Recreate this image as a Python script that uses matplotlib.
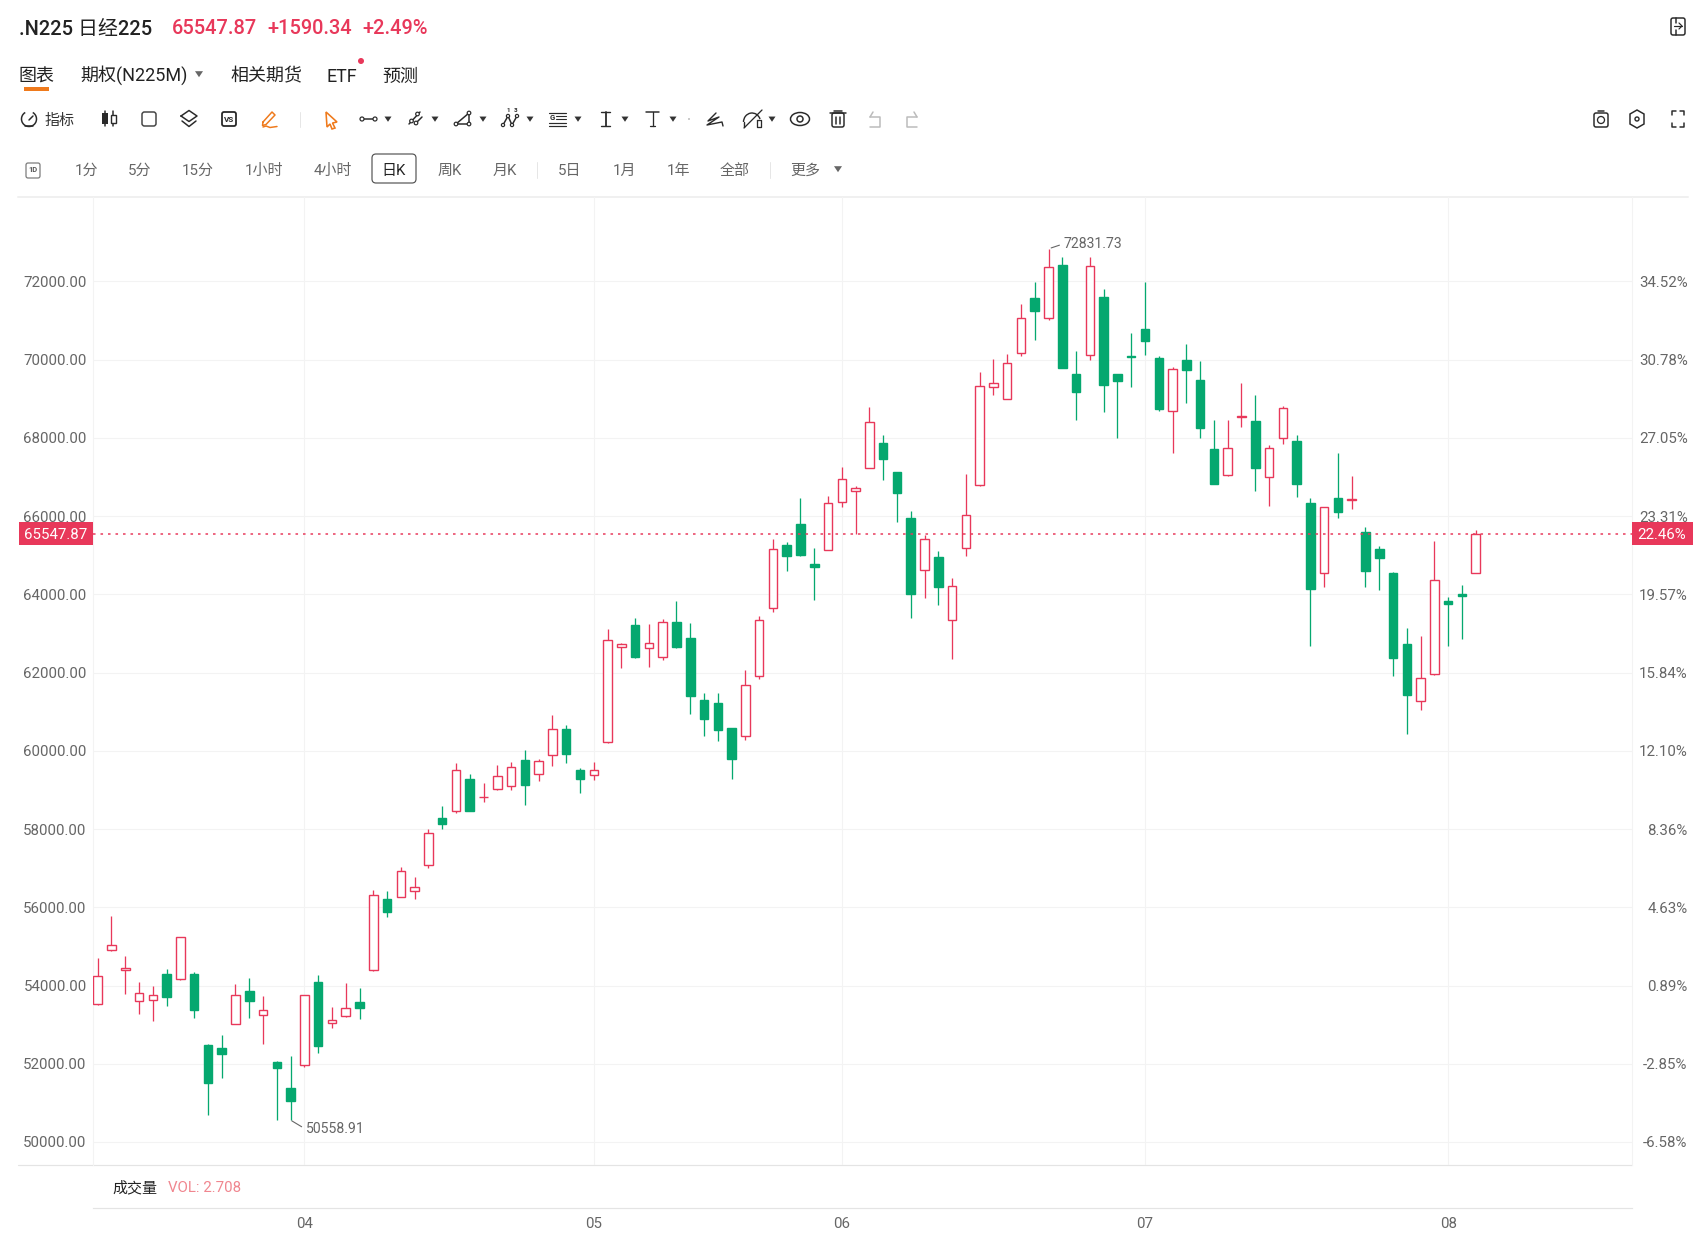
import matplotlib
matplotlib.use('Agg')
import matplotlib.pyplot as plt
from matplotlib.patches import Rectangle, FancyBboxPatch, Circle, Polygon, Ellipse, Arc

plt.rcParams['font.family'] = ['Roboto', 'Noto Sans CJK SC', 'DejaVu Sans']

# daily candles
opens = [53530, 54920, 54390, 53600, 53630, 54290, 54160, 54290, 52480, 52390,
         53020, 53870, 53240, 52050, 51390, 51960, 54080, 53030, 53210, 53580,
         54390, 56200, 56260, 56420, 57080, 58270, 58470, 59270, 58810, 59020,
         59100, 59760, 59400, 59880, 60550, 59500, 59380, 60230, 62650, 63220,
         62620, 62400, 63280, 62890, 61310, 61210, 60570, 60380, 61910, 63660,
         65250, 65790, 64780, 65130, 66370, 66630, 67240, 67870, 67120, 65960,
         64630, 64960, 63340, 65180, 66790, 69290, 69000, 70160, 71570, 71070,
         72420, 69630, 70120, 71590, 69630, 70090, 70790, 70050, 68680, 69980,
         69470, 67720, 67040, 68530, 68420, 67010, 67990, 67910, 66340, 64540,
         66450, 66410, 65590, 65170, 64540, 62740, 61260, 61960, 63840, 64000,
         64550]
closes = [54250, 55040, 54460, 53820, 53750, 53700, 55250, 53370, 51520, 52250,
          53760, 53600, 53370, 51880, 51060, 53750, 52460, 53130, 53420, 53430,
          56310, 55890, 56930, 56510, 57890, 58130, 59520, 58470, 58820, 59350,
          59590, 59130, 59730, 60550, 59910, 59280, 59510, 62840, 62720, 62410,
          62750, 63280, 62650, 61400, 60810, 60540, 59800, 61690, 63340, 65170,
          64990, 65000, 64690, 66330, 66940, 66730, 68400, 67470, 66580, 64020,
          65420, 64180, 64220, 66030, 69330, 69410, 69910, 71060, 71250, 72360,
          69790, 69170, 72380, 69360, 69460, 70070, 70470, 68730, 69750, 69740,
          68260, 66820, 67750, 68560, 67240, 67750, 68760, 66830, 64140, 66230,
          66100, 66430, 64600, 64920, 62360, 61420, 61860, 64360, 63740, 63950,
          65547.87]
highs = [54710, 55770, 54750, 54080, 54000, 54410, 55250, 54350, 52500, 52730,
         54040, 54200, 53730, 52060, 52190, 53750, 54280, 53440, 54060, 53940,
         56440, 56420, 57020, 56780, 57990, 58590, 59690, 59400, 59180, 59630,
         59710, 60030, 59780, 60920, 60650, 59570, 59720, 63110, 62750, 63400,
         63240, 63370, 63820, 63260, 61490, 61470, 60580, 62060, 63450, 65420,
         65330, 66450, 65180, 66520, 67250, 66760, 68800, 68060, 67130, 66130,
         65510, 65110, 64410, 67080, 69680, 70020, 70140, 71420, 71980, 72831.73,
         72630, 70230, 72610, 71800, 69640, 70670, 71980, 70090, 69800, 70390,
         69970, 68460, 68460, 69390, 69100, 67810, 68810, 68080, 66450, 66240,
         67600, 67030, 65720, 65230, 64570, 63150, 62940, 65370, 63920, 64250,
         65650]
lows = [53490, 54880, 53780, 53280, 53100, 53480, 54150, 53180, 50680, 51640,
        53010, 53170, 52500, 50560, 50558.91, 51910, 52270, 52920, 53200, 53150,
        54380, 55760, 56250, 56220, 57000, 58010, 58420, 58460, 58680, 58990,
        58990, 58610, 59220, 59600, 59690, 58930, 59250, 60210, 62120, 62370,
        62150, 62310, 62640, 60930, 60370, 60250, 59280, 60280, 61840, 63560,
        64600, 64990, 63860, 65120, 66230, 65550, 67230, 66910, 65860, 63400,
        63910, 63720, 62340, 64990, 66780, 69090, 68990, 70090, 70500, 71010,
        69780, 68460, 69990, 68650, 67990, 69310, 70120, 68680, 67610, 68900,
        68000, 66810, 67020, 68270, 66650, 66270, 67840, 66500, 62690, 64190,
        65940, 66190, 64190, 64100, 61910, 60440, 61040, 61940, 62680, 62850,
        64550]

price_ticks = [50000, 52000, 54000, 56000, 58000, 60000, 62000, 64000, 66000, 68000, 70000, 72000]
pct_labels = ['-6.58%', '-2.85%', '0.89%', '4.63%', '8.36%', '12.10%', '15.84%', '19.57%',
              '23.31%', '27.05%', '30.78%', '34.52%']
month_pos = [15, 36, 54, 76, 98]
month_labels = ['04', '05', '06', '07', '08']
last_price = 65547.87
last_pct = '22.46%'
peak_i, peak_val = 69, 72831.73
trough_i, trough_val = 14, 50558.91

RED = '#e8385a'
GREEN = '#05a86f'
GREY = '#666666'
GRID = '#f3f3f3'
DARK = '#2a2a2a'
ORANGE = '#ef7a1c'
W, H = 1705, 1234
pt = 0.72  # px -> pt at dpi 100

fig = plt.figure(figsize=(W / 100, H / 100), dpi=100, facecolor='white')


def box(l, t, r, b):
    return [l / W, 1 - b / H, (r - l) / W, (b - t) / H]


# page furniture lives on a pixel-sized axes
ui = fig.add_axes([0, 0, 1, 1])
ui.set_xlim(0, W)
ui.set_ylim(H, 0)
ui.axis('off')


def line(xs, ys, c=DARK, lw=1.5):
    ui.plot(xs, ys, color=c, lw=lw * pt, solid_capstyle='round', solid_joinstyle='round')


def dot(x, y, r=2, c=DARK, lw=1.2):
    ui.add_patch(Circle((x, y), r, fc='white', ec=c, lw=lw * pt, zorder=3))


def label(x, y, s, size=15, c=GREY, ha='center', **kw):
    ui.text(x, y, s, fontsize=size * pt, color=c, ha=ha, va='center_baseline', **kw)


def rbox(x0, y0, x1, y1, c=DARK, lw=1.5, r=2, fc='none'):
    ui.add_patch(FancyBboxPatch((x0 + r, y0 + r), x1 - x0 - 2 * r, y1 - y0 - 2 * r,
                                boxstyle='round,pad=%s' % r, ec=c, fc=fc, lw=lw * pt))


def tri(x, y, c='#444444', s=3.5):
    ui.add_patch(Polygon([(x - s, y - s * 0.7), (x + s, y - s * 0.7), (x, y + s * 0.8)], fc=c, ec='none'))


# header
label(19, 27, '.N225 日经225', 20, '#222222', ha='left', fontweight='medium')
label(172, 27, '65547.87', 20, RED, ha='left', fontweight='medium')
label(267, 27, '+1590.34', 20, RED, ha='left', fontweight='medium')
label(362, 27, '+2.49%', 20, RED, ha='left', fontweight='medium')
rbox(1671, 18, 1685, 35)
line([1676, 1676], [18, 23])
line([1676, 1676], [30, 35])
line([1674, 1682], [26, 26], lw=1.2)
line([1679, 1682, 1679], [23, 26, 29], lw=1.2)

# tabs
label(19, 74.5, '图表', 18, '#222222', ha='left')
label(80, 72.5, '期权(N225M)', 18, '#222222', ha='left')
tri(199, 74, GREY, 4)
label(230, 74.5, '相关期货', 18, '#222222', ha='left')
label(327, 74.5, 'ETF', 18, '#222222', ha='left')
ui.add_patch(Circle((361, 61), 3, fc=RED, ec='none'))
label(382, 74.5, '预测', 18, '#222222', ha='left')
ui.add_patch(Rectangle((24, 87), 25, 4, fc=ORANGE, ec='none'))

# drawing toolbar
ty = 119
ui.add_patch(Arc((29, ty), 15, 15, theta1=-60, theta2=240, ec=DARK, lw=1.5 * pt))
line([25, 33], [125.5, 125.5])
line([29, 33], [120, 116])
label(45, ty, '指标', 15, '#333333', ha='left')
ui.add_patch(Rectangle((102, 113), 6, 11, fc=DARK, ec='none'))
line([105, 105], [111, 126])
line([113, 113], [111, 126])
ui.add_patch(Rectangle((110.5, 114.5), 5, 8.5, fc='white', ec=DARK, lw=1.4 * pt, zorder=3))
rbox(142, 112, 156, 126, '#444444', r=2.5)
line([181, 189, 197, 189, 181], [116, 110.5, 116, 121.5, 116])
line([182, 189, 196], [121, 126.5, 121])
rbox(222, 112, 236, 126, lw=1.8)
label(229, 119, 'VS', 8, DARK, fontweight='bold')
line([263, 272, 275, 266, 262.5, 263], [122, 112, 115, 124.5, 125.5, 122], ORANGE)
line([263, 266, 270, 277], [127, 126, 127.5, 126.5], ORANGE)
line([300, 300], [112, 127], '#e6e6e6', 1)
ui.add_patch(Polygon([(326, 112), (337, 122), (332.5, 123), (335, 128), (332, 129), (330, 124), (327, 127)],
                     fc='none', ec=ORANGE, lw=1.6 * pt))
line([363, 374], [119, 119])
dot(362, 119)
dot(375, 119)
line([409, 420], [124, 112])
line([415, 422], [124, 117])
dot(417.5, 114, 1.8)
dot(411.5, 121, 1.8)
dot(416, 123, 1.8)
line([456, 469, 469, 456], [124, 124, 113, 124])
dot(456, 124, 1.8)
dot(469, 124, 1.8)
dot(469, 113, 1.8)
line([503, 508, 512, 517], [125, 116, 125, 116])
for x, y in [(503, 125), (508, 116), (512, 125), (517, 116)]:
    dot(x, y, 1.6)
ui.text(508, 111, '1', fontsize=4.5, color=DARK, ha='center', va='center', fontweight='bold')
ui.text(516, 111, '3', fontsize=4.5, color=DARK, ha='center', va='center', fontweight='bold')
for y in [112.5, 122.5, 126]:
    line([549, 566], [y, y], lw=1.2)
line([556, 566], [116, 116], lw=1.1)
line([556, 566], [119, 119], lw=1.1)
ui.text(552, 117.5, 'G', fontsize=5.5, color=DARK, ha='center', va='center', fontweight='bold')
line([601, 610], [112, 112], lw=1.4)
line([605.5, 605.5], [112, 126], lw=1.8)
line([601, 610], [126, 126], lw=1.4)
line([646, 659], [112, 112], lw=1.5)
line([652.5, 652.5], [112, 126], lw=1.3)
line([650, 655], [126, 126], lw=1.3)
line([716, 708, 719, 707, 722, 723], [113, 121, 117, 125, 122, 126], lw=1.4)
ui.add_patch(Arc((752, 122), 17, 18, theta1=180, theta2=340, ec=DARK, lw=1.4 * pt))
line([743.5, 743.5], [122, 127], lw=1.4)
line([757, 757, 761, 761, 757], [120, 127, 127, 120, 120], lw=1.3)
line([744, 762], [128, 110], lw=1.3)
ui.add_patch(Ellipse((800, 119), 19, 13, fc='none', ec=DARK, lw=1.5 * pt))
ui.add_patch(Circle((800, 119), 3, fc='none', ec=DARK, lw=1.5 * pt))
line([830, 846], [113, 113])
line([834, 842], [110.5, 110.5])
rbox(832, 113, 844, 127)
line([836, 836], [116.5, 123.5])
line([840, 840], [116.5, 123.5])
for x in [388, 435, 483, 530, 578, 625, 673, 772]:
    tri(x, 119, '#333333', 3.5)
ui.add_patch(Circle((689, 119), 0.8, fc='#999999', ec='none'))
line([870, 880, 880, 870], [117, 117, 127, 127], '#bbbbbb')
line([870, 873], [117, 112], '#bbbbbb')
line([917, 907, 907, 917], [117, 117, 127, 127], '#bbbbbb')
line([917, 914], [117, 112], '#bbbbbb')
rbox(1594, 113, 1608, 127)
line([1598, 1604], [111, 111])
ui.add_patch(Circle((1601, 120), 3.5, fc='none', ec=DARK, lw=1.3 * pt))
ui.add_patch(Polygon([(1637, 110), (1644, 114), (1644, 124), (1637, 128), (1630, 124), (1630, 114)],
                     fc='none', ec=DARK, lw=1.5 * pt))
ui.add_patch(Circle((1637, 119), 2, fc='none', ec=DARK, lw=1.4 * pt))
for xs, ys in [([1672, 1672, 1676], [115, 111, 111]), ([1680, 1684, 1684], [111, 111, 115]),
               ([1672, 1672, 1676], [123, 127, 127]), ([1680, 1684, 1684], [127, 127, 123])]:
    line(xs, ys)

# period row
py = 169.5
rbox(26, 163, 40, 178, '#777777', 1.2)
label(33, py, '1D', 7.5, '#555555', fontweight='bold')
periods = [(86, '1分'), (140, '5分'), (198, '15分'), (264, '1小时'), (333, '4小时'), (450, '周K'),
           (505, '月K'), (570, '5日'), (624, '1月'), (678, '1年'), (735, '全部'), (805, '更多')]
for x, s in periods:
    label(x, py, s, 15, GREY)
rbox(372, 154, 416, 183, '#555555', 1.2, r=4)
label(394, py, '日K', 15, '#222222')
line([537, 537], [162, 178], '#e6e6e6', 1)
line([770, 770], [162, 178], '#e6e6e6', 1)
tri(838, 169, GREY, 4)

# frame lines outside the chart
line([18, 1688], [197, 197], '#f0f0f0', 2)
line([18, 1632], [1165, 1165], '#e4e4e4', 1.2)

# price panel
ax = fig.add_axes(box(93, 197, 1632, 1165))
ax.patch.set_alpha(0)
idx = list(range(len(opens)))
ups = [c >= o for o, c in zip(opens, closes)]
wick_col = [RED if u else GREEN for u in ups]
ax.vlines(idx, lows, highs, colors=wick_col, lw=1.3 * pt, zorder=2)
ax.bar(idx, [abs(c - o) for o, c in zip(opens, closes)], bottom=[min(o, c) for o, c in zip(opens, closes)],
       width=0.62, color=['white' if u else GREEN for u in ups], edgecolor=wick_col, linewidth=1.4 * pt, zorder=3)
ax.set_xlim(-0.34, 111.34)
ax.set_ylim(49412, 74156)
ax.set_yticks(price_ticks)
ax.set_yticklabels(['%.2f' % p for p in price_ticks])
ax.set_xticks(month_pos)
ax.tick_params(axis='x', length=0, labelbottom=False)
ax.tick_params(axis='y', length=0, labelsize=15 * pt, labelcolor=GREY, pad=4.6)
ax.grid(True, color=GRID, lw=1.1 * pt, zorder=0)
ax.set_axisbelow(True)
for s in ['top', 'bottom']:
    ax.spines[s].set_visible(False)
for s in ['left', 'right']:
    ax.spines[s].set_color(GRID)
    ax.spines[s].set_linewidth(1.1 * pt)

ax.axhline(last_price, color=RED, lw=1.5 * pt, dashes=(1.7, 3.3), zorder=4)
ax.annotate('%.2f' % peak_val, xy=(peak_i, peak_val), xytext=(15 * pt, 5 * pt), textcoords='offset points',
            fontsize=14 * pt, color=GREY, va='center',
            arrowprops=dict(arrowstyle='-', color=GREY, lw=0.8, shrinkA=1, shrinkB=2, relpos=(0, 0.5)))
ax.annotate('%.2f' % trough_val, xy=(trough_i, trough_val), xytext=(15 * pt, -9 * pt), textcoords='offset points',
            fontsize=14 * pt, color=GREY, va='center',
            arrowprops=dict(arrowstyle='-', color=GREY, lw=0.8, shrinkA=1, shrinkB=1, relpos=(0, 0.5)))

# percent scale on the right
ax2 = ax.twinx()
ax2.set_ylim(ax.get_ylim())
ax2.set_yticks(price_ticks)
ax2.set_yticklabels(pct_labels, ha='right')
ax2.tick_params(axis='y', length=0, labelsize=15 * pt, labelcolor=GREY, pad=55.5 * pt)
for s in ax2.spines.values():
    s.set_visible(False)

# last price tags, boxes as wide as the scale gutters
ytr = ax.get_yaxis_transform()
ax2.add_patch(Rectangle((-0.0484, last_price - 294), 0.0484, 588, transform=ytr, fc=RED, ec='none',
                        clip_on=False, zorder=9))
ax2.add_patch(Rectangle((1.0, last_price - 294), 0.0397, 588, transform=ytr, fc=RED, ec='none',
                        clip_on=False, zorder=9))
ax2.text(-0.0244, last_price, '%.2f' % last_price, transform=ytr, ha='center', va='center_baseline', color='white',
         fontsize=15 * pt, zorder=10)
ax2.text(1.0195, last_price, last_pct, transform=ytr, ha='center', va='center_baseline', color='white',
         fontsize=15 * pt, zorder=10)

# volume strip, only the legend and the month axis show
vol = fig.add_axes(box(93, 1165, 1632, 1208), sharex=ax)
vol.patch.set_alpha(0)
vol.set_yticks([])
vol.set_xticks(month_pos)
vol.set_xticklabels(month_labels)
vol.tick_params(axis='x', length=0, labelsize=15 * pt, labelcolor=GREY, pad=6.5)
for s in ['top', 'left', 'right']:
    vol.spines[s].set_visible(False)
vol.spines['bottom'].set_color('#e4e4e4')
vol.spines['bottom'].set_linewidth(1.2 * pt)
label(112, 1187, '成交量', 15, '#222222', ha='left')
label(168, 1187, 'VOL: 2.708', 15, '#f0868f', ha='left')

fig.savefig('out.png', dpi=100)
